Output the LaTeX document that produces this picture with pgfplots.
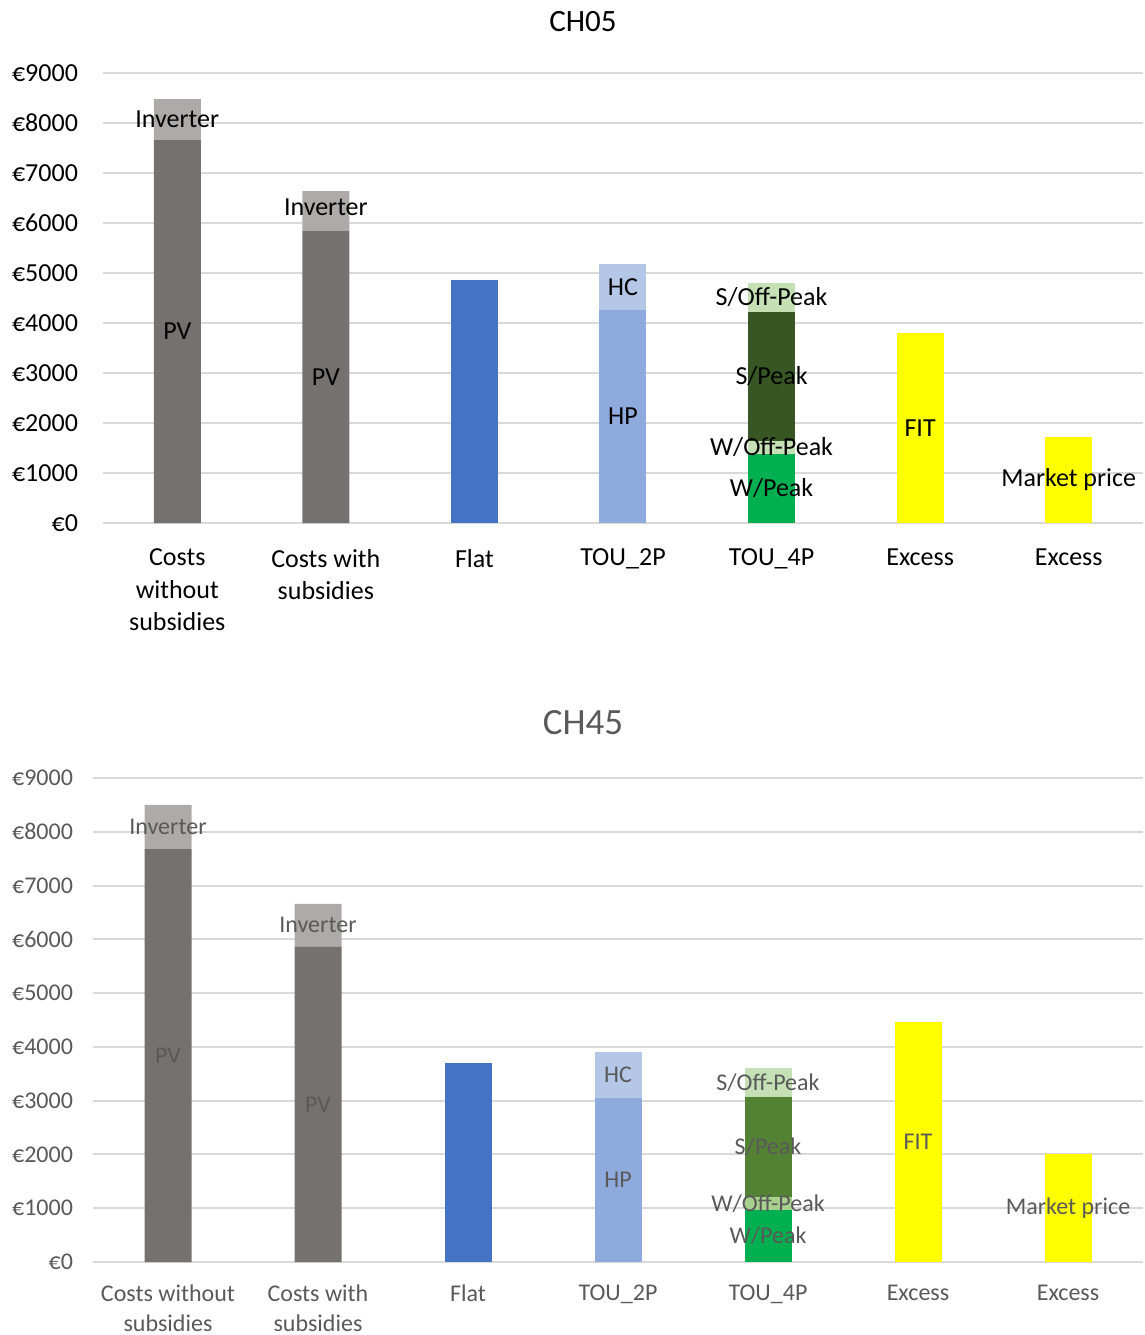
\documentclass[border=0pt]{standalone}
\usepackage{fontspec}
\setmainfont{Carlito}
\usepackage{pgfplots}
\pgfplotsset{compat=1.18}
\definecolor{pvc}{HTML}{767171}
\definecolor{invc}{HTML}{AEAAAA}
\definecolor{flatc}{HTML}{4472C4}
\definecolor{hpc}{HTML}{8FAADC}
\definecolor{hcc}{HTML}{B4C7E7}
\definecolor{wpc}{HTML}{00B050}
\definecolor{wopc}{HTML}{C5E0B4}
\definecolor{wopb}{HTML}{A9D18E}
\definecolor{spc}{HTML}{375623}
\definecolor{spb}{HTML}{548235}
\definecolor{sopc}{HTML}{C5E0B4}
\definecolor{yelc}{HTML}{FFFF00}
\definecolor{gridc}{HTML}{D9D9D9}
\definecolor{txtb}{HTML}{595959}
\pgfplotsset{
  mybars/.style={
    scale only axis, anchor=south west,
    ybar stacked, xmin=-0.5, xmax=6.5, ymin=0, ymax=9000,
    xtick={0,...,6}, ytick={0,1000,...,9000},
    yticklabels={€0,€1000,€2000,€3000,€4000,€5000,€6000,€7000,€8000,€9000},
    ymajorgrids, grid style={draw=gridc, line width=1pt},
    axis lines*=left, major tick length=0pt,
    x axis line style={draw=gridc, line width=1pt},
    y axis line style={draw=none},
    every axis plot/.append style={draw=none},
  }
}
\tikzset{lblA/.style={font=\fontsize{13}{15}\selectfont, text=black},
         lblB/.style={font=\fontsize{12}{14}\selectfont, text=txtb}}
\begin{document}
\begin{tikzpicture}
\useasboundingbox (0,0) rectangle (572.5pt,-667.5pt);
\node[font=\fontsize{15.5}{18}\selectfont, text=black] at (291.5pt,-11pt) {CH05};
\begin{axis}[mybars,
  at={(51.5pt,-261.5pt)}, width=520pt, height=225pt, bar width=23.5pt,
  tick label style={font=\fontsize{13}{16.25}\selectfont, text=black},
  yticklabel style={xshift=-9pt},
  xticklabel style={align=center, yshift=-9.5pt},
  xticklabels={{Costs\\without\\subsidies},{Costs with\\subsidies},Flat,TOU\_2P,TOU\_4P,Excess,Excess},
]
\addplot[fill=pvc] coordinates {(0,7660) (1,5840) (2,0) (3,0) (4,0) (5,0) (6,0)};
\addplot[fill=invc] coordinates {(0,820) (1,800) (2,0) (3,0) (4,0) (5,0) (6,0)};
\addplot[fill=flatc] coordinates {(0,0) (1,0) (2,4860) (3,0) (4,0) (5,0) (6,0)};
\addplot[fill=hpc] coordinates {(0,0) (1,0) (2,0) (3,4260) (4,0) (5,0) (6,0)};
\addplot[fill=hcc] coordinates {(0,0) (1,0) (2,0) (3,920) (4,0) (5,0) (6,0)};
\addplot[fill=wpc] coordinates {(0,0) (1,0) (2,0) (3,0) (4,1380) (5,0) (6,0)};
\addplot[fill=wopc] coordinates {(0,0) (1,0) (2,0) (3,0) (4,260) (5,0) (6,0)};
\addplot[fill=spc] coordinates {(0,0) (1,0) (2,0) (3,0) (4,2580) (5,0) (6,0)};
\addplot[fill=sopc] coordinates {(0,0) (1,0) (2,0) (3,0) (4,580) (5,0) (6,0)};
\addplot[fill=yelc] coordinates {(0,0) (1,0) (2,0) (3,0) (4,0) (5,3800) (6,0)};
\addplot[fill=yelc] coordinates {(0,0) (1,0) (2,0) (3,0) (4,0) (5,0) (6,1720)};
\coordinate (a1) at (axis cs:0,8070);
\coordinate (a2) at (axis cs:0,3830);
\coordinate (a3) at (axis cs:1,6320);
\coordinate (a4) at (axis cs:1,2920);
\coordinate (a5) at (axis cs:3,4720);
\coordinate (a6) at (axis cs:3,2130);
\coordinate (a7) at (axis cs:4,4510);
\coordinate (a8) at (axis cs:4,2930);
\coordinate (a9) at (axis cs:4,1510);
\coordinate (a10) at (axis cs:4,690);
\coordinate (a11) at (axis cs:5,1900);
\coordinate (a12) at (axis cs:6,860);
\end{axis}
\node[lblA] at (a1) {Inverter};
\node[lblA] at (a2) {PV};
\node[lblA] at (a3) {Inverter};
\node[lblA] at (a4) {PV};
\node[lblA] at (a5) {HC};
\node[lblA] at (a6) {HP};
\node[lblA] at (a7) {S/Off-Peak};
\node[lblA] at (a8) {S/Peak};
\node[lblA] at (a9) {W/Off-Peak};
\node[lblA] at (a10) {W/Peak};
\node[lblA] at (a11) {FIT};
\node[lblA] at (a12) {Market price};
\node[font=\fontsize{18.5}{21}\selectfont, text=txtb] at (291.5pt,-361.5pt) {CH45};
\begin{axis}[mybars,
  at={(46.5pt,-631pt)}, width=525pt, height=242pt, bar width=23.5pt,
  tick label style={font=\fontsize{12}{15}\selectfont, text=txtb},
  yticklabel style={xshift=-6.5pt},
  xticklabel style={align=center, yshift=-8pt},
  xticklabels={{Costs without\\subsidies},{Costs with\\subsidies},Flat,TOU\_2P,TOU\_4P,Excess,Excess},
]
\addplot[fill=pvc] coordinates {(0,7680) (1,5860) (2,0) (3,0) (4,0) (5,0) (6,0)};
\addplot[fill=invc] coordinates {(0,820) (1,800) (2,0) (3,0) (4,0) (5,0) (6,0)};
\addplot[fill=flatc] coordinates {(0,0) (1,0) (2,3700) (3,0) (4,0) (5,0) (6,0)};
\addplot[fill=hpc] coordinates {(0,0) (1,0) (2,0) (3,3050) (4,0) (5,0) (6,0)};
\addplot[fill=hcc] coordinates {(0,0) (1,0) (2,0) (3,850) (4,0) (5,0) (6,0)};
\addplot[fill=wpc] coordinates {(0,0) (1,0) (2,0) (3,0) (4,970) (5,0) (6,0)};
\addplot[fill=wopb] coordinates {(0,0) (1,0) (2,0) (3,0) (4,240) (5,0) (6,0)};
\addplot[fill=spb] coordinates {(0,0) (1,0) (2,0) (3,0) (4,1860) (5,0) (6,0)};
\addplot[fill=sopc] coordinates {(0,0) (1,0) (2,0) (3,0) (4,540) (5,0) (6,0)};
\addplot[fill=yelc] coordinates {(0,0) (1,0) (2,0) (3,0) (4,0) (5,4460) (6,0)};
\addplot[fill=yelc] coordinates {(0,0) (1,0) (2,0) (3,0) (4,0) (5,0) (6,2010)};
\coordinate (b1) at (axis cs:0,8090);
\coordinate (b2) at (axis cs:0,3840);
\coordinate (b3) at (axis cs:1,6260);
\coordinate (b4) at (axis cs:1,2930);
\coordinate (b5) at (axis cs:3,3475);
\coordinate (b6) at (axis cs:3,1525);
\coordinate (b7) at (axis cs:4,3340);
\coordinate (b8) at (axis cs:4,2140);
\coordinate (b9) at (axis cs:4,1090);
\coordinate (b10) at (axis cs:4,485);
\coordinate (b11) at (axis cs:5,2230);
\coordinate (b12) at (axis cs:6,1005);
\end{axis}
\node[lblB] at (b1) {Inverter};
\node[lblB] at (b2) {PV};
\node[lblB] at (b3) {Inverter};
\node[lblB] at (b4) {PV};
\node[lblB] at (b5) {HC};
\node[lblB] at (b6) {HP};
\node[lblB] at (b7) {S/Off-Peak};
\node[lblB] at (b8) {S/Peak};
\node[lblB] at (b9) {W/Off-Peak};
\node[lblB] at (b10) {W/Peak};
\node[lblB] at (b11) {FIT};
\node[lblB] at (b12) {Market price};
\end{tikzpicture}
\end{document}
